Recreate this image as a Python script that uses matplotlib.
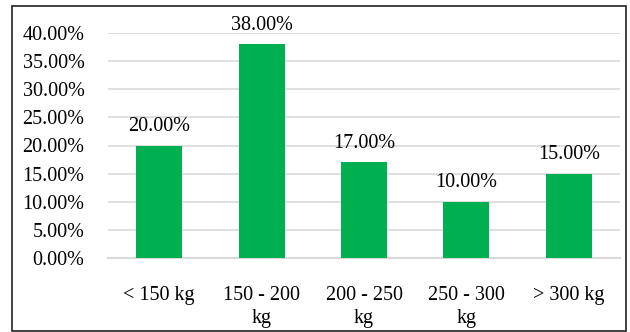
import matplotlib.pyplot as plt
from matplotlib.patches import Rectangle
from matplotlib.ticker import FuncFormatter

categories = ["< 150 kg", "150 - 200\nkg", "200 - 250\nkg", "250 - 300\nkg", "> 300 kg"]
shares = [20.0, 38.0, 17.0, 10.0, 15.0]  # percent of animals per weight class

plt.rcParams['font.family'] = ['Liberation Serif', 'DejaVu Serif']

W, H = 630, 332
fig = plt.figure(figsize=(W / 100, H / 100), dpi=100)
ax = fig.add_axes([108 / W, 74 / H, 512 / W, 225 / H])

x = range(len(categories))
bars = ax.bar(x, shares, width=0.45, color="#00B050", zorder=3)
ax.bar_label(bars, labels=[f"{v:.2f}%" for v in shares], padding=7, fontsize=14.5)

ax.set_xlim(-0.5, len(categories) - 0.5)
ax.set_ylim(0, 40)
ax.set_yticks(range(0, 41, 5))
ax.yaxis.set_major_formatter(FuncFormatter(lambda v, p: f"{v:.2f}%"))
ax.set_xticks(list(x))
ax.set_xticklabels(categories, fontsize=14.5, va="top", linespacing=1.3)
ax.tick_params(axis="y", length=0, pad=17, labelsize=14.5)
ax.tick_params(axis="x", length=0, pad=20)

ax.grid(axis="y", color="#D9D9D9", linewidth=1.2, zorder=0)
for side in ["top", "right", "left"]:
    ax.spines[side].set_visible(False)
ax.spines["bottom"].set_color("#D9D9D9")
ax.spines["bottom"].set_linewidth(1.5)

# thin frame around the whole chart
fig.patches.append(Rectangle((12 / W, 1.5 / H), 614 / W, 324.5 / H, transform=fig.transFigure,
                             fill=False, edgecolor="#222222", linewidth=1.2))

fig.savefig("out.png", dpi=100)
